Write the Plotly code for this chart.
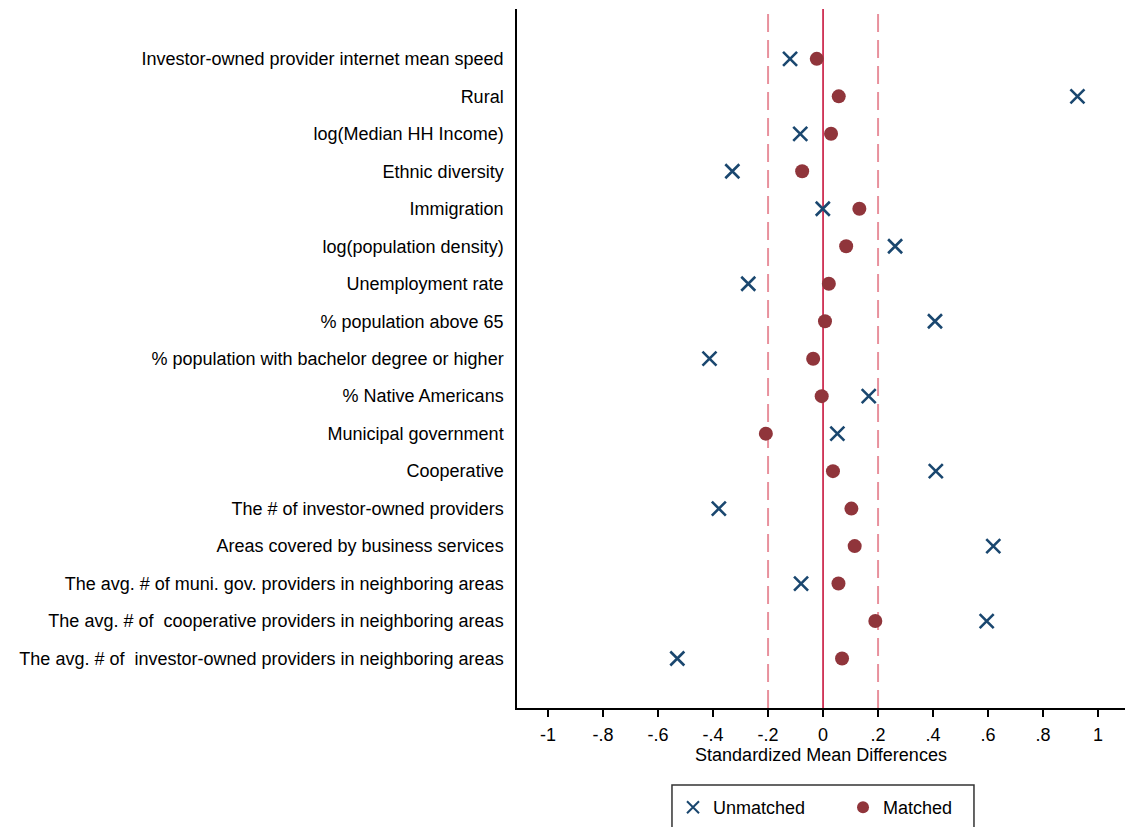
import plotly.graph_objects as go

variables = [
    "Investor-owned provider internet mean speed",
    "Rural",
    "log(Median HH Income)",
    "Ethnic diversity",
    "Immigration",
    "log(population density)",
    "Unemployment rate",
    "% population above 65",
    "% population with bachelor degree or higher",
    "% Native Americans",
    "Municipal government",
    "Cooperative",
    "The # of investor-owned providers",
    "Areas covered by business services",
    "The avg. # of muni. gov. providers in neighboring areas",
    "The avg. # of  cooperative providers in neighboring areas",
    "The avg. # of  investor-owned providers in neighboring areas",
]
unmatched = [-0.120, 0.925, -0.083, -0.330, -0.001, 0.262, -0.272, 0.407,
             -0.413, 0.166, 0.052, 0.410, -0.379, 0.619, -0.080, 0.595, -0.530]
matched = [-0.023, 0.057, 0.029, -0.076, 0.132, 0.084, 0.021, 0.007,
           -0.036, -0.005, -0.208, 0.036, 0.103, 0.115, 0.056, 0.190, 0.069]
x_ticks = [-1, -0.8, -0.6, -0.4, -0.2, 0, 0.2, 0.4, 0.6, 0.8, 1]
x_tick_labels = ["-1", "-.8", "-.6", "-.4", "-.2", "0", ".2", ".4", ".6", ".8", "1"]

idx = list(range(len(variables)))
FONT = "Liberation Sans, Arial, Helvetica, sans-serif"

fig = go.Figure()
fig.add_trace(go.Scatter(
    x=unmatched, y=idx, mode="markers", name="Unmatched",
    marker=dict(symbol="x-thin", size=14, color="#1a476f",
                line=dict(width=2.6, color="#1a476f")),
))
fig.add_trace(go.Scatter(
    x=matched, y=idx, mode="markers", name="Matched",
    marker=dict(symbol="circle", size=14, color="#90353b"),
))

for xv in (-0.2, 0.2):
    fig.add_shape(type="line", x0=xv, x1=xv, y0=0, y1=1, xref="x", yref="paper",
                  line=dict(color="#e8919d", width=2, dash="18px,8px"), layer="below")
fig.add_shape(type="line", x0=0, x1=0, y0=0, y1=1, xref="x", yref="paper",
              line=dict(color="#c8143c", width=1.6), layer="below")

# legend frame
fig.add_shape(type="rect", xref="paper", yref="paper",
              x0=0.2549, x1=0.7516, y0=-0.1102, y1=-0.20,
              line=dict(color="#333333", width=1.5), fillcolor="rgba(0,0,0,0)")

fig.update_layout(
    width=1125, height=827,
    margin=dict(l=517, r=0, t=9, b=119),
    paper_bgcolor="white", plot_bgcolor="white",
    font=dict(family=FONT, size=18, color="black"),
    showlegend=True,
    legend=dict(
        orientation="h", x=0.2566, xanchor="left", y=-0.116, yanchor="top",
        borderwidth=0, entrywidth=125, bgcolor="rgba(0,0,0,0)",
        font=dict(size=18), itemsizing="constant",
    ),
    xaxis=dict(
        range=[-1.113, 1.098], tickvals=x_ticks, ticktext=x_tick_labels,
        showgrid=False, zeroline=False, showline=True, linecolor="black", linewidth=1.5,
        ticks="outside", ticklen=7, tickwidth=1.5, tickcolor="black",
        ticklabelstandoff=3,
        title=dict(text="Standardized Mean Differences", font=dict(size=18), standoff=4),
        tickfont=dict(size=18),
    ),
    yaxis=dict(
        range=[len(variables) - 1 + 1.32, -1.33], tickvals=idx, ticktext=variables,
        showgrid=False, zeroline=False, showline=True, linecolor="black", linewidth=1.5,
        ticks="outside", ticklen=8, tickcolor="rgba(0,0,0,0)",
        tickfont=dict(size=18),
    ),
)

fig.write_html("out.html")
